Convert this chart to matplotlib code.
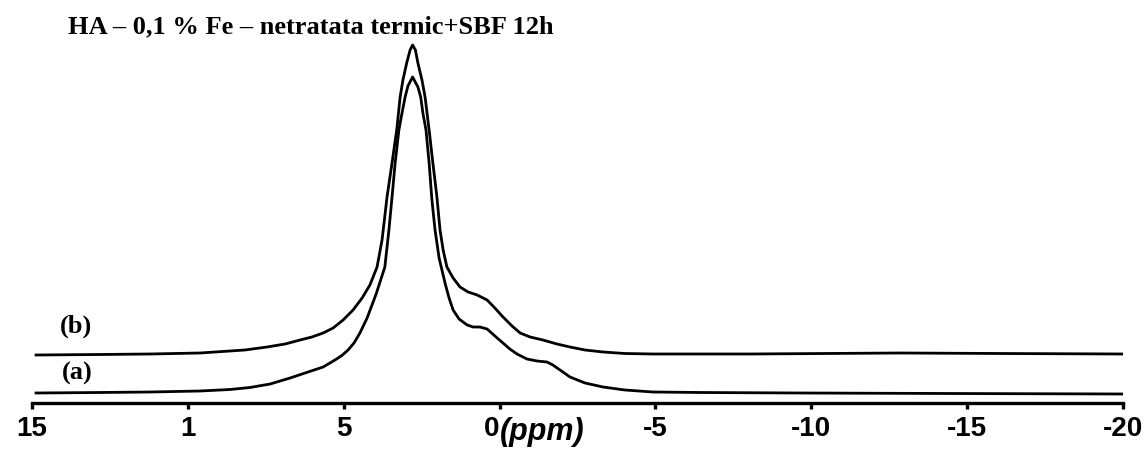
import matplotlib
matplotlib.use("Agg")
import matplotlib.pyplot as plt

# Chemical shift (ppm) and intensity (a.u.)
ppm_a = [14.87, 12.82, 11.21, 9.61, 8.65, 8.01, 7.36, 6.72, 6.24, 5.66, 5.28, 5.06,
         4.86, 4.67, 4.48, 4.25, 3.96, 3.68, 3.55, 3.45, 3.35, 3.23, 3.13, 3.03, 2.94,
         2.79, 2.62, 2.53, 2.46, 2.36, 2.26, 2.17, 2.07, 1.94, 1.75, 1.62, 1.49,
         1.30, 1.04, 0.85, 0.63, 0.40, 0.15, -0.11, -0.33, -0.56, -0.88, -1.20, -1.52,
         -1.71, -1.94, -2.26, -2.74, -3.32, -4.02, -4.92, -6.43, -9.64, -14.45, -20.0]
int_a = [10, 10.5, 11, 12, 13.5, 15.5, 19, 25, 30, 36, 43, 47.5,
         53, 60, 70, 85, 109, 136, 173, 206, 240, 273, 290, 306, 317,
         326, 316, 306, 290, 273, 240, 203, 173, 145, 120, 105, 93,
         84, 78, 76, 76, 74, 67, 60, 54, 49, 44, 42, 41,
         38, 33, 26, 20, 16, 13, 11, 10.5, 10, 9.5, 9]

ppm_b = [14.87, 12.82, 11.21, 9.61, 8.17, 7.46, 6.88, 6.40, 6.02, 5.66, 5.34, 5.02,
         4.70, 4.41, 4.16, 3.93, 3.77, 3.61, 3.45, 3.30, 3.19, 3.10, 2.98, 2.87,
         2.79, 2.70, 2.62, 2.49, 2.39, 2.26, 2.14, 2.01, 1.91, 1.81, 1.69, 1.49,
         1.27, 1.01, 0.72, 0.40, 0.15, -0.11, -0.40, -0.66, -0.98, -1.39, -1.84, -2.26,
         -2.74, -3.32, -4.02, -4.92, -8.03, -12.85, -16.05, -20.0]
int_b = [48, 48.5, 49, 50, 53, 56, 59, 63, 66, 70, 75, 83,
         93, 105, 118, 136, 163, 206, 240, 273, 306, 323, 340, 353,
         358, 353, 340, 323, 306, 273, 240, 206, 173, 153, 136, 125,
         116, 111, 108, 103, 95, 86, 77, 70, 66, 63, 59, 56,
         53, 51, 49.5, 49, 49, 50, 49.5, 49]

tick_values = [15, 10, 5, 0, -5, -10, -15, -20]
tick_labels = ["15", "1", "5", "0", "-5", "-10", "-15", "-20"]
title_text = "HA \u2013 0,1 % Fe \u2013 netratata termic+SBF 12h"

fig = plt.figure(figsize=(11.44, 4.55), dpi=100)
ax = fig.add_axes([32 / 1144, 1 - 403 / 455, (1123 - 32) / 1144, 403 / 455])

ax.plot(ppm_a, int_a, color="black", lw=2.0, solid_joinstyle="round")
ax.plot(ppm_b, int_b, color="black", lw=2.0, solid_joinstyle="round")

ax.set_xlim(15, -20)
ax.set_ylim(0, 403)

for s in ["top", "left", "right"]:
    ax.spines[s].set_visible(False)
ax.spines["bottom"].set_linewidth(2.4)
ax.set_yticks([])
ax.set_xticks(tick_values)
ax.set_xticklabels(tick_labels, fontfamily="Liberation Sans", fontweight="bold", fontsize=20)
ax.tick_params(axis="x", direction="out", length=4, width=2.4, pad=5)
# the "0" label sits just left of its tick, followed by the unit
ax.get_xticklabels()[3].set_horizontalalignment("right")

sans = "Liberation Sans"
serif = "Liberation Serif"
fig.text(500 / 1144, 1 - 440 / 455, "(ppm)", fontfamily=sans, fontweight="bold",
         fontstyle="italic", fontsize=22, ha="left", va="baseline")
fig.text(68 / 1144, 1 - 33 / 455, title_text, fontfamily=serif, fontweight="bold",
         fontsize=19, ha="left", va="baseline")
fig.text(60 / 1144, 1 - 333 / 455, "(b)", fontfamily=serif, fontweight="bold",
         fontsize=19, ha="left", va="baseline")
fig.text(62 / 1144, 1 - 380 / 455, "(a)", fontfamily=serif, fontweight="bold",
         fontsize=19, ha="left", va="baseline")

fig.savefig("out.png", dpi=100)
